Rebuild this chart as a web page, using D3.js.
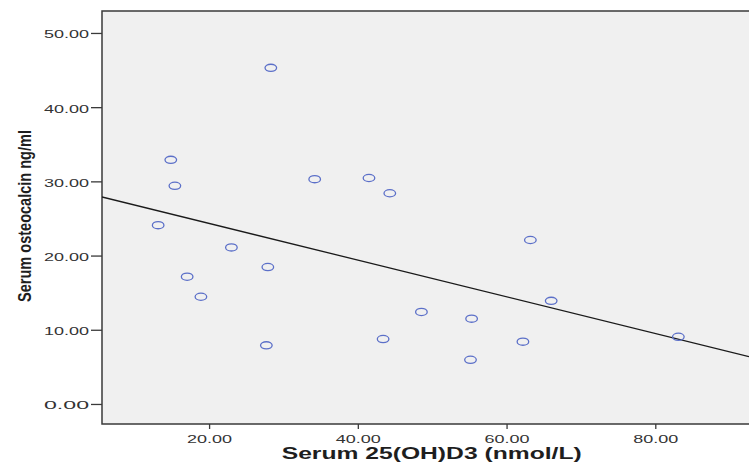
<!DOCTYPE html>
<html>
<head>
<meta charset="utf-8">
<script src="https://cdn.jsdelivr.net/npm/d3@7"></script>
<style>
  body { margin: 0; background: #fff; }
  svg { display: block; }
</style>
</head>
<body>
<div class="dataviz"></div>
<script>
// values
var vitD = [28.3, 14.85, 15.4, 34.2, 41.5, 44.3, 13.15, 23.0, 63.2, 66.0,
            48.55, 55.3, 43.4, 62.2, 55.15, 83.1, 27.9, 17.05, 18.9, 27.7];
var osteocalcin = [45.3, 32.9, 29.4, 30.3, 30.45, 28.4, 24.1, 21.1, 22.1, 13.9,
                   12.4, 11.5, 8.75, 8.4, 5.95, 9.05, 18.45, 17.15, 14.45, 7.9];
var xTicks = [20, 40, 60, 80];
var yTicks = [0, 10, 20, 30, 40, 50];

var W = 749, H = 475;
var plot = {left: 102, top: 11, right: 749, bottom: 424};

var svg = d3.select(".dataviz")
  .append("svg")
    .attr("width", W)
    .attr("height", H);

var x = d3.scaleLinear().domain([5.6, 92.6]).range([plot.left, plot.right]);
var y = d3.scaleLinear().domain([-2.7, 52.96]).range([plot.bottom, plot.top]);

// grey plot background + frame (right side runs off the page)
svg.append("rect")
    .attr("x", plot.left)
    .attr("y", plot.top)
    .attr("width", plot.right - plot.left + 10)
    .attr("height", plot.bottom - plot.top)
    .attr("fill", "#f0f0f0")
    .attr("stroke", "#3a3a3a")
    .attr("stroke-width", 1.5);

var fmt = d3.format(".2f");

// y axis
var gy = svg.append("g")
    .attr("transform", "translate(" + plot.left + ",0)")
    .call(d3.axisLeft(y).tickValues(yTicks).tickFormat(fmt).tickSize(11).tickPadding(2));
gy.select(".domain").remove();
gy.selectAll(".tick line").attr("stroke", "#3a3a3a").attr("stroke-width", 1.3);
gy.selectAll(".tick text")
    .attr("fill", "#333")
    .attr("font-family", "Liberation Sans, Arial, sans-serif")
    .attr("font-size", "11.5px")
    .attr("dy", "0.42em")
    .attr("textLength", 45)
    .attr("lengthAdjust", "spacingAndGlyphs");

// x axis
var gx = svg.append("g")
    .attr("transform", "translate(0," + plot.bottom + ")")
    .call(d3.axisBottom(x).tickValues(xTicks).tickFormat(fmt).tickSize(5));
gx.select(".domain").remove();
gx.selectAll(".tick line").attr("stroke", "#3a3a3a").attr("stroke-width", 1.3);
gx.selectAll(".tick text")
    .attr("fill", "#333")
    .attr("font-family", "Liberation Sans, Arial, sans-serif")
    .attr("font-size", "11.5px")
    .attr("y", 19)
    .attr("dy", 0)
    .attr("textLength", 45)
    .attr("lengthAdjust", "spacingAndGlyphs");

// axis titles
svg.append("text")
    .attr("x", 431.7)
    .attr("y", 459)
    .attr("text-anchor", "middle")
    .attr("font-family", "Liberation Sans, Arial, sans-serif")
    .attr("font-weight", "bold")
    .attr("font-size", "16.5px")
    .attr("fill", "#1e1e1e")
    .attr("textLength", 300)
    .attr("lengthAdjust", "spacingAndGlyphs")
    .text("Serum 25(OH)D3 (nmol/L)");

svg.append("text")
    .attr("transform", "translate(30.5,216) rotate(-90)")
    .attr("text-anchor", "middle")
    .attr("font-family", "Liberation Sans Narrow, Liberation Sans, Arial, sans-serif")
    .attr("font-weight", "bold")
    .attr("font-size", "19px")
    .attr("fill", "#1e1e1e")
    .attr("textLength", 172)
    .attr("lengthAdjust", "spacingAndGlyphs")
    .text("Serum osteocalcin ng/ml");

// least squares fit line
var mx = d3.mean(vitD), my = d3.mean(osteocalcin);
var sxy = d3.sum(vitD, (v, i) => (v - mx) * (osteocalcin[i] - my));
var sxx = d3.sum(vitD, v => (v - mx) * (v - mx));
var slope = sxy / sxx, intercept = my - slope * mx;
var xd = x.domain();

svg.append("clipPath").attr("id", "plotclip")
  .append("rect")
    .attr("x", plot.left).attr("y", plot.top)
    .attr("width", plot.right - plot.left).attr("height", plot.bottom - plot.top);

svg.append("line")
    .attr("clip-path", "url(#plotclip)")
    .attr("x1", x(xd[0]))
    .attr("y1", y(intercept + slope * xd[0]))
    .attr("x2", x(xd[1]))
    .attr("y2", y(intercept + slope * xd[1]))
    .attr("stroke", "#1a1a1a")
    .attr("stroke-width", 1.3);

// points
svg.append("g")
  .selectAll("ellipse")
  .data(vitD)
  .join("ellipse")
    .attr("cx", d => x(d))
    .attr("cy", (d, i) => y(osteocalcin[i]))
    .attr("rx", 5.8)
    .attr("ry", 3.6)
    .attr("fill", "none")
    .attr("stroke", "#5b6fc8")
    .attr("stroke-width", 1.3);
</script>
</body>
</html>
